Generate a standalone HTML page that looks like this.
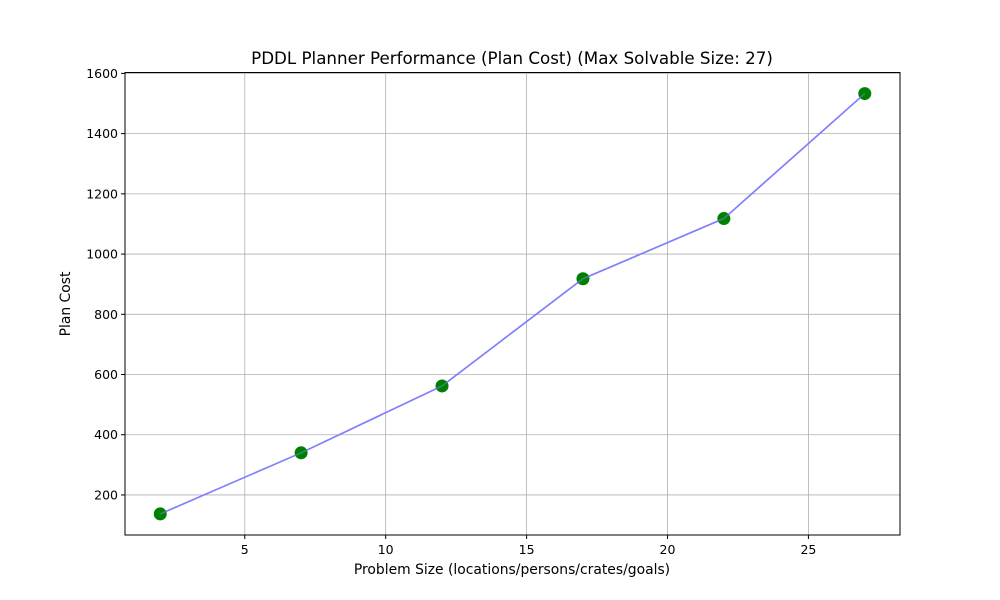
<!DOCTYPE html>
<html><head><meta charset="utf-8"><style>
body{margin:0;background:#fff;}
svg{display:block;font-family:"DejaVu Sans","Liberation Sans",sans-serif;}
</style></head><body>
<svg id="chart" width="1000" height="600">
<rect width="1000" height="600" fill="#fff"/>
<text x="512" y="64" text-anchor="middle" font-size="16.7">PDDL Planner Performance (Plan Cost) (Max Solvable Size: 27)</text>
<g id="grid"></g><g id="ticks"></g><g id="series"></g>
<rect x="125" y="72.5" width="775" height="462.5" fill="none" stroke="#000" stroke-width="1"/>
<text x="512" y="574" text-anchor="middle" font-size="13.9">Problem Size (locations/persons/crates/goals)</text>
<text transform="translate(70,304) rotate(-90)" text-anchor="middle" font-size="13.9">Plan Cost</text>
</svg>
<script>
const sizes=[2,7,12,17,22,27];
const costs=[137,340,562,918,1118,1533];
const xTicks=[5,10,15,20,25];
const yTicks=[200,400,600,800,1000,1200,1400,1600];
const NS="http://www.w3.org/2000/svg";
const L=125,R=900,T=72.5,B=535;
const xmin=0.75,xmax=28.25,ymin=67,ymax=1603;
const sx=v=>L+(v-xmin)/(xmax-xmin)*(R-L);
const sy=v=>B-(v-ymin)/(ymax-ymin)*(B-T);
function mk(tag,attrs,parent){const e=document.createElementNS(NS,tag);for(const k in attrs)e.setAttribute(k,attrs[k]);document.getElementById(parent).appendChild(e);return e;}
xTicks.forEach(t=>{const x=sx(t);
let g=mk('line',{x1:x,x2:x,y1:T,y2:B,stroke:'#b0b0b0','stroke-width':0.8},'grid');


mk('line',{x1:x,x2:x,y1:B,y2:B+4,stroke:'#000'},'ticks');
let tx=mk('text',{x:x,y:B+19,'text-anchor':'middle','font-size':12.5},'ticks');tx.textContent=t;

});
yTicks.forEach(t=>{const y=sy(t);
let g=mk('line',{x1:L,x2:R,y1:y,y2:y,stroke:'#b0b0b0','stroke-width':0.8},'grid');


mk('line',{x1:L-4,x2:L,y1:y,y2:y,stroke:'#000'},'ticks');
let tx=mk('text',{x:L-7,y:y+4.5,'text-anchor':'end','font-size':12.5},'ticks');tx.textContent=t;

});
const pts=sizes.map((s,i)=>sx(s)+','+sy(costs[i])).join(' ');
sizes.forEach((s,i)=>{const c=mk('circle',{cx:sx(s),cy:sy(costs[i]),r:6.5,fill:'#008000'},'series');

});
const pl=mk('polyline',{points:pts,fill:'none',stroke:'#7f7fff','stroke-opacity':0.5,'stroke-width':1.6},'series');


const pl2=mk('polyline',{points:pts,fill:'none',stroke:'#7f7fff','stroke-width':1.6},'grid');


</script>
</body></html>
